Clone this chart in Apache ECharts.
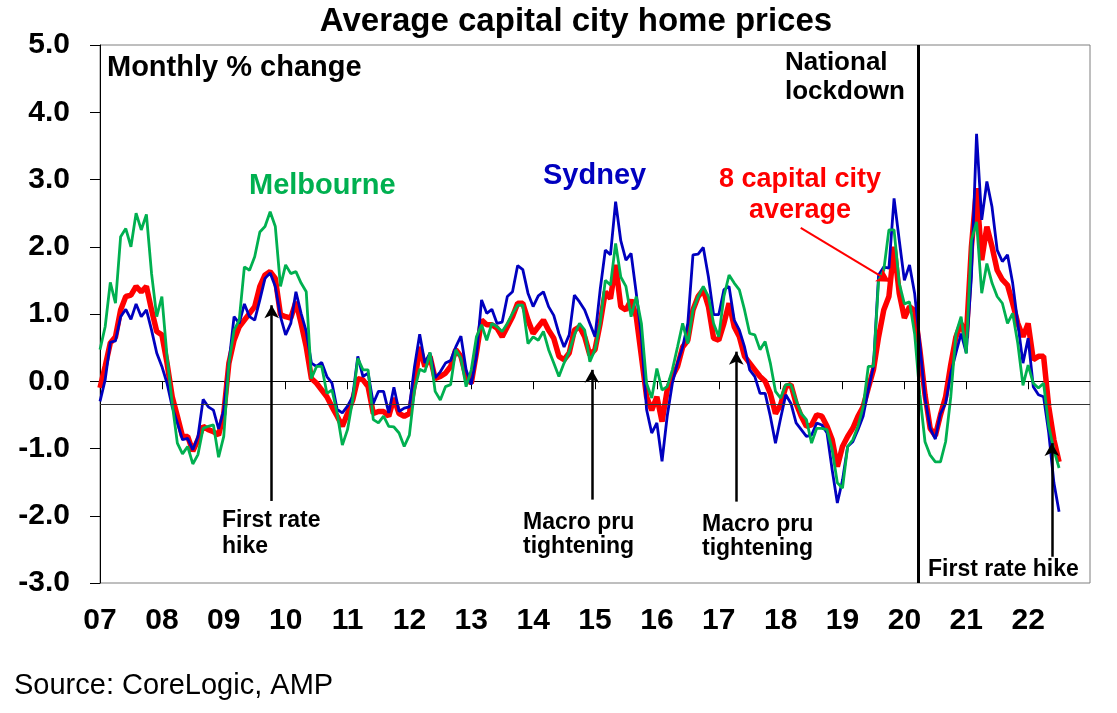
<!DOCTYPE html>
<html>
<head>
<meta charset="utf-8">
<script src="https://cdn.jsdelivr.net/npm/echarts@6/dist/echarts.min.js"></script>
<style>
  html, body { margin: 0; padding: 0; background: #fff; }
  #chart { width: 1117px; height: 713px; }
</style>
</head>
<body>
<div id="chart"></div>
<script>
// monthly % change, Jan 2007 .. Jul 2022 (one row per year)
var yearLabels = ['07','08','09','10','11','12','13','14','15','16','17','18','19','20','21','22'];

var capitalAvg = [
  -0.10, 0.22, 0.57, 0.66, 1.06, 1.26, 1.28, 1.41, 1.33, 1.41, 1.06, 0.74,
  0.69, 0.27, -0.23, -0.52, -0.82, -0.82, -1.04, -0.87, -0.67, -0.72, -0.75, -0.80,
  -0.48, 0.27, 0.61, 0.81, 0.91, 1.01, 1.11, 1.41, 1.58, 1.63, 1.53, 0.99,
  0.96, 0.94, 1.18, 0.86, 0.51, 0.04, -0.03, -0.13, -0.23, -0.38, -0.52, -0.67,
  -0.48, -0.28, 0.04, 0.02, -0.08, -0.48, -0.45, -0.45, -0.52, -0.25, -0.48, -0.52,
  -0.48, -0.03, 0.51, 0.22, 0.37, 0.04, 0.07, 0.12, 0.22, 0.47, 0.37, 0.07,
  -0.03, 0.42, 0.91, 0.84, 0.84, 0.79, 0.66, 0.81, 0.96, 1.16, 1.16, 0.91,
  0.71, 0.81, 0.91, 0.76, 0.64, 0.37, 0.32, 0.42, 0.76, 0.81, 0.66, 0.39,
  0.47, 0.86, 1.33, 1.23, 1.73, 1.11, 1.06, 1.21, 0.96, 0.37, -0.23, -0.43,
  -0.23, -0.60, -0.13, 0.07, 0.22, 0.51, 0.61, 1.06, 1.26, 1.36, 1.11, 0.64,
  0.61, 0.86, 1.16, 0.81, 0.66, 0.37, 0.27, 0.17, 0.07, 0.00, -0.18, -0.48,
  -0.35, -0.08, -0.05, -0.33, -0.52, -0.67, -0.65, -0.50, -0.52, -0.67, -0.87, -1.27,
  -0.97, -0.82, -0.70, -0.52, -0.38, -0.10, 0.17, 0.66, 1.06, 1.26, 2.00, 1.31,
  0.94, 1.11, 1.05, 0.47, -0.20, -0.70, -0.81, -0.50, -0.23, 0.25, 0.66, 0.86,
  0.64, 2.00, 2.87, 1.80, 2.30, 2.00, 1.65, 1.51, 1.43, 1.16, 0.86, 0.66,
  0.86, 0.32, 0.37, 0.37, -0.38, -0.87, -1.20
];

var sydney = [
  -0.30, 0.02, 0.58, 0.60, 0.96, 1.07, 0.92, 1.15, 0.96, 1.06, 0.76, 0.42,
  0.22, -0.03, -0.38, -0.62, -0.87, -0.85, -1.02, -0.82, -0.27, -0.38, -0.43, -0.71,
  -0.43, 0.27, 0.96, 0.86, 1.15, 0.96, 0.91, 1.21, 1.53, 1.61, 1.41, 0.96,
  0.69, 0.86, 1.33, 1.01, 0.74, 0.27, 0.22, 0.28, 0.07, -0.03, -0.42, -0.47,
  -0.37, -0.23, 0.37, 0.07, 0.12, -0.33, -0.15, -0.15, -0.47, -0.09, -0.45, -0.40,
  -0.38, 0.22, 0.70, 0.27, 0.42, 0.05, 0.14, 0.27, 0.31, 0.51, 0.67, 0.17,
  -0.05, 0.37, 1.21, 1.01, 1.07, 0.86, 0.88, 1.26, 1.33, 1.72, 1.66, 1.31,
  1.11, 1.27, 1.33, 1.11, 0.98, 0.71, 0.51, 0.69, 1.28, 1.18, 1.06, 0.86,
  0.66, 1.36, 1.95, 1.88, 2.67, 2.09, 1.80, 1.90, 1.31, 0.67, -0.42, -0.77,
  -0.62, -1.19, -0.52, -0.03, 0.27, 0.51, 0.86, 1.88, 1.89, 1.99, 1.55, 0.99,
  0.99, 1.36, 1.41, 0.91, 0.76, 0.51, 0.17, 0.07, -0.18, -0.18, -0.52, -0.92,
  -0.55, -0.20, -0.33, -0.62, -0.72, -0.82, -0.80, -0.62, -0.65, -0.77, -1.32, -1.81,
  -1.47, -0.97, -0.90, -0.72, -0.52, -0.13, 0.22, 1.58, 1.70, 1.68, 2.72, 2.10,
  1.50, 1.73, 1.30, 0.55, -0.25, -0.70, -0.86, -0.48, -0.33, 0.12, 0.42, 0.71,
  0.42, 1.55, 3.68, 2.40, 2.97, 2.59, 1.95, 1.78, 1.88, 1.46, 0.86, 0.27,
  0.64, -0.08, -0.20, -0.23, -0.77, -1.51, -1.94
];

var melbourne = [
  0.47, 0.81, 1.47, 1.16, 2.15, 2.27, 2.00, 2.50, 2.25, 2.48, 1.60, 0.96,
  1.26, 0.37, -0.33, -0.92, -1.08, -0.97, -1.23, -1.09, -0.70, -0.67, -0.65, -1.13,
  -0.82, 0.27, 0.76, 0.91, 1.70, 1.65, 1.85, 2.22, 2.30, 2.52, 2.30, 1.41,
  1.73, 1.60, 1.63, 1.46, 1.33, 0.04, 0.22, 0.22, -0.18, -0.13, -0.48, -0.95,
  -0.72, -0.28, 0.34, 0.17, 0.17, -0.57, -0.62, -0.52, -0.67, -0.68, -0.77, -0.97,
  -0.80, -0.13, 0.18, 0.14, 0.43, -0.15, -0.28, -0.08, -0.05, 0.47, 0.34, -0.08,
  0.17, 0.66, 0.84, 0.61, 0.86, 0.81, 0.74, 0.86, 1.01, 1.13, 1.13, 0.56,
  0.66, 0.61, 0.74, 0.47, 0.27, 0.07, 0.27, 0.44, 0.69, 0.86, 0.76, 0.29,
  0.47, 0.86, 1.50, 1.43, 2.05, 1.55, 1.41, 0.96, 1.26, 0.86, -0.03, -0.25,
  0.19, -0.13, -0.08, 0.17, 0.51, 0.86, 0.56, 1.06, 1.26, 1.41, 1.26, 0.86,
  0.66, 1.26, 1.58, 1.46, 1.36, 1.06, 0.71, 0.69, 0.47, 0.59, 0.27, -0.15,
  -0.25, -0.05, -0.05, -0.28, -0.48, -0.57, -0.92, -0.70, -0.70, -0.72, -1.02, -1.51,
  -1.59, -0.97, -0.87, -0.67, -0.38, 0.22, 0.22, 1.50, 1.65, 2.25, 2.25, 1.46,
  1.15, 1.18, 0.70, -0.20, -0.90, -1.10, -1.20, -1.20, -0.90, -0.23, 0.71, 0.96,
  0.41, 2.10, 2.37, 1.31, 1.75, 1.46, 1.26, 1.16, 0.86, 1.01, 0.56, -0.06,
  0.24, -0.03, -0.10, -0.03, -0.67, -1.02, -1.29
];

var longRunAvg = -0.34;    // thin horizontal reference line
var lockdownMonth = 158.6; // Mar 2020

function pairs(arr) {
  return arr.map(function (v, i) { return [i, v]; });
}

var FONT = '"Liberation Sans", Arial';
var chart = echarts.init(document.getElementById('chart'));

var option = {
  animation: false,
  title: {
    text: 'Average capital city home prices',
    left: 571,
    textAlign: 'center',
    top: 0,
    textStyle: { fontFamily: FONT, fontSize: 33, fontWeight: 'bold', color: '#000' }
  },
  grid: {
    left: 100, right: 27, top: 45, bottom: 130,
    show: true, borderColor: '#7f7f7f', borderWidth: 1
  },
  xAxis: {
    type: 'value',
    min: 0, max: 192, interval: 12,
    axisLine: { lineStyle: { color: '#000', width: 1 } },
    axisTick: { show: true, length: 8, lineStyle: { color: '#000' } },
    splitLine: { show: false },
    axisLabel: {
      margin: 23,
      color: '#000',
      fontFamily: FONT,
      fontSize: 30,
      fontWeight: 'bold',
      showMaxLabel: false,
      formatter: function (v) { return yearLabels[v / 12] || ''; }
    }
  },
  yAxis: {
    type: 'value',
    min: -3, max: 5, interval: 1,
    axisLine: { show: true, lineStyle: { color: '#000', width: 1 } },
    axisTick: { show: true, length: 10, lineStyle: { color: '#000' } },
    splitLine: { show: false },
    axisLabel: {
      margin: 30,
      color: '#000',
      fontFamily: FONT,
      fontSize: 30,
      fontWeight: 'bold',
      formatter: function (v) { return v.toFixed(1); }
    }
  },
  series: [
    {
      name: '8 capital city average',
      type: 'line',
      data: pairs(capitalAvg),
      showSymbol: false,
      lineStyle: { color: '#ff0000', width: 5.5 },
      z: 2,
      markLine: {
        silent: true,
        symbol: ['none', 'none'],
        label: { show: false },
        lineStyle: { type: 'solid' },
        data: [
          [{ coord: [0, longRunAvg], lineStyle: { color: '#333', width: 1, type: 'solid' } },
           { coord: [192, longRunAvg] }],
          [{ coord: [lockdownMonth, 5], lineStyle: { color: '#000', width: 3, type: 'solid' } },
           { coord: [lockdownMonth, -3] }]
        ]
      }
    },
    {
      name: 'Sydney',
      type: 'line',
      data: pairs(sydney),
      showSymbol: false,
      lineStyle: { color: '#0000bf', width: 2.8 },
      z: 3
    },
    {
      name: 'Melbourne',
      type: 'line',
      data: pairs(melbourne),
      showSymbol: false,
      lineStyle: { color: '#00b050', width: 2.8 },
      z: 4,
      markLine: {
        silent: true,
        symbol: ['none', 'arrow'],
        symbolSize: [11, 13],
        label: { show: false },
        lineStyle: { color: '#000', width: 2.5, type: 'solid' },
        data: [
          [{ coord: [33.3, -1.78] }, { coord: [33.3, 1.13] }],
          [{ coord: [95.4, -1.76] }, { coord: [95.4, 0.17] }],
          [{ coord: [123.4, -1.79] }, { coord: [123.4, 0.44] }],
          [{ coord: [184.6, -2.61] }, { coord: [184.6, -0.92] }],
          [{ coord: [135.9, 2.28], lineStyle: { color: '#ff0000', width: 2, type: 'solid' } },
           { coord: [153.2, 1.48] }]
        ]
      }
    }
  ],
  graphic: [
    { type: 'text', x: 107, y: 68, style: { text: 'Monthly % change', fill: '#000',
      font: 'bold 29px ' + FONT, textVerticalAlign: 'middle' } },
    { type: 'text', x: 249, y: 186, style: { text: 'Melbourne', fill: '#00b050',
      font: 'bold 29px ' + FONT, textVerticalAlign: 'middle' } },
    { type: 'text', x: 543, y: 176, style: { text: 'Sydney', fill: '#0000bf',
      font: 'bold 29px ' + FONT, textVerticalAlign: 'middle' } },
    { type: 'text', x: 800, y: 195, style: { text: '8 capital city\naverage', fill: '#ff0000',
      font: 'bold 27px ' + FONT, textAlign: 'center', textVerticalAlign: 'middle', lineHeight: 31 } },
    { type: 'text', x: 785, y: 77, style: { text: 'National\nlockdown', fill: '#000',
      font: 'bold 26px ' + FONT, textVerticalAlign: 'middle', lineHeight: 29 } },
    { type: 'text', x: 222, y: 534, style: { text: 'First rate\nhike', fill: '#000',
      font: 'bold 23px ' + FONT, textVerticalAlign: 'middle', lineHeight: 26 } },
    { type: 'text', x: 523, y: 535, style: { text: 'Macro pru\ntightening', fill: '#000',
      font: 'bold 23px ' + FONT, textVerticalAlign: 'middle', lineHeight: 24 } },
    { type: 'text', x: 702, y: 537, style: { text: 'Macro pru\ntightening', fill: '#000',
      font: 'bold 23px ' + FONT, textVerticalAlign: 'middle', lineHeight: 24 } },
    { type: 'text', x: 928, y: 570, style: { text: 'First rate hike', fill: '#000',
      font: 'bold 23px ' + FONT, textVerticalAlign: 'middle' } },
    { type: 'text', x: 14, y: 686, style: { text: 'Source: CoreLogic, AMP', fill: '#000',
      font: '29px ' + FONT, textVerticalAlign: 'middle' } }
  ]
};

chart.setOption(option);
</script>
</body>
</html>
